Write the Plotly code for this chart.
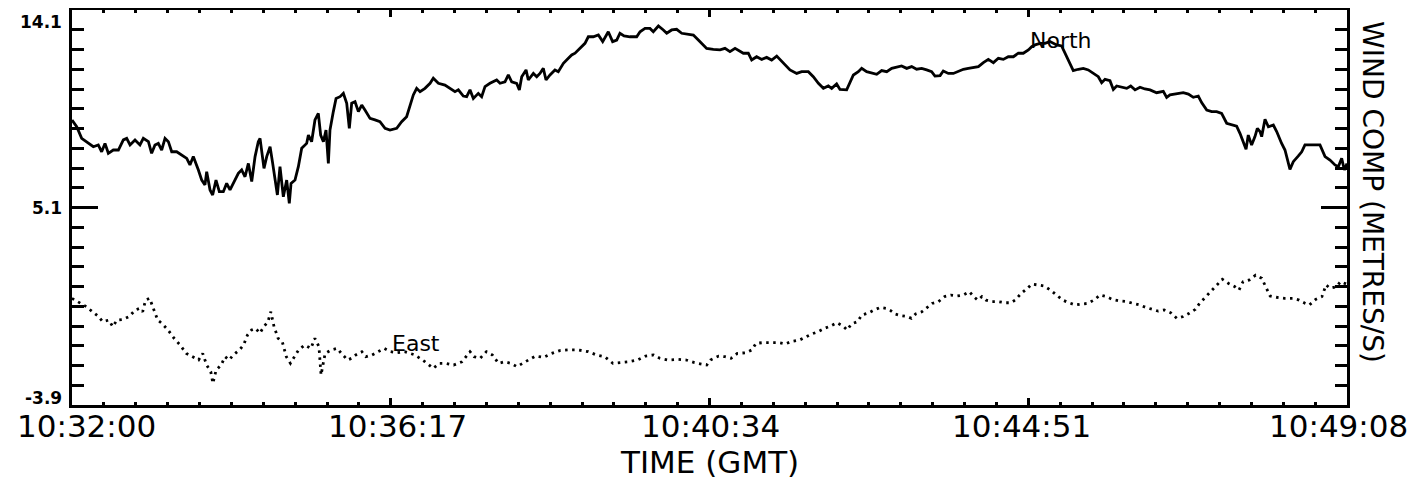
import plotly.graph_objects as go

# ---- axis ticks / labels ----
tick_seconds = [0, 257, 514, 771, 1028]
tick_labels = ["10:32:00", "10:36:17", "10:40:34", "10:44:51", "10:49:08"]
y_ticks = [-3.9, 5.1, 14.1]
y_tick_labels = ["-3.9", "5.1", "14.1"]

# ---- North component (seconds after 10:32:00, m/s) ----
north_t = [0, 3.8, 7.8, 11.8, 17.2, 21.2, 23.9, 26.6, 29.3, 33.3, 37.4, 41.4, 44.1, 46.8, 50.8, 54.8, 57.5, 61.6,
           64.2, 66.9, 69.6, 72.3, 75.0, 77.7, 80.4, 84.4, 88.4, 92.5, 95.1, 97.8, 101.9, 104.6, 107.2, 108.6, 111.3,
           113.4, 116.1, 118.8, 122.0, 124.7, 127.4, 130.1, 134.1, 136.8, 139.5, 142.2, 144.9, 147.6, 150.2, 151.6,
           152.9, 154.8, 157.0, 159.7, 161.8, 163.7, 165.6, 167.7, 170.4, 173.1, 175.2, 176.6, 179.8, 182.5, 185.2,
           189.2, 190.6, 193.2, 195.9, 198.6, 200.5, 202.7, 204.8, 206.7, 208.0, 210.7, 212.9, 216.1, 218.8, 221.5,
           223.6, 225.5, 228.2, 230.9, 233.6, 236.2, 240.3, 244.3, 248.3, 252.4, 256.4, 261.8, 265.8, 269.8, 272.5,
           275.2, 277.9, 280.6, 284.6, 288.7, 291.3, 295.4, 300.7, 304.8, 308.8, 311.5, 315.5, 318.2, 320.9, 323.6,
           327.6, 330.3, 333.0, 337.0, 342.4, 345.1, 349.1, 351.8, 354.5, 358.5, 360.7, 362.6, 366.1, 367.9, 372.0,
           374.7, 377.3, 380.0, 382.2, 385.4, 389.4, 392.1, 396.2, 400.2, 402.9, 405.6, 409.6, 413.6, 416.3, 420.3,
           424.4, 427.9, 432.4, 435.9, 439.2, 441.8, 445.1, 449.9, 455.3, 458.0, 462.0, 466.0, 468.7, 472.8, 476.8,
           479.5, 483.5, 487.5, 491.6, 495.6, 501.0, 505.0, 509.0, 511.7, 517.1, 522.5, 526.5, 530.5, 534.6, 538.6,
           541.3, 545.3, 548.0, 552.0, 556.1, 560.1, 564.1, 568.2, 573.5, 578.9, 584.3, 588.3, 593.7, 597.7, 601.8,
           605.8, 609.8, 612.5, 616.5, 619.2, 624.6, 627.3, 630.0, 634.0, 636.7, 640.7, 644.8, 648.8, 652.8, 656.9,
           660.9, 664.9, 668.9, 673.0, 677.0, 681.0, 685.1, 689.1, 693.1, 695.8, 699.9, 702.5, 706.6, 710.6, 714.6,
           718.7, 722.7, 726.7, 730.8, 734.8, 738.8, 742.9, 746.9, 750.9, 754.9, 759.0, 763.0, 767.0, 771.1, 773.8,
           776.5, 780.5, 784.5, 788.5, 793.9, 797.9, 800.6, 803.3, 807.3, 811.4, 815.4, 819.4, 823.5, 827.5, 830.2,
           832.9, 836.9, 839.6, 842.3, 846.3, 850.4, 853.6, 857.1, 861.1, 865.1, 869.2, 874.5, 879.9, 882.6, 885.3,
           890.7, 896.0, 900.1, 904.1, 908.1, 910.8, 914.9, 918.9, 922.9, 926.9, 931.0, 935.0, 939.0, 941.7, 944.4,
           946.6, 948.4, 951.1, 953.8, 955.7, 957.9, 959.2, 961.9, 964.6, 968.6, 971.3, 975.3, 978.0, 982.0, 984.7,
           988.8, 991.5, 994.1, 998.2, 1002.2, 1006.2, 1010.3, 1014.3, 1018.3, 1021.0, 1023.7, 1025.9, 1028]
north_v = [9.09, 8.78, 8.25, 8.10, 7.87, 7.95, 7.64, 8.02, 7.57, 7.72, 7.72, 8.18, 8.25, 7.95, 8.18, 7.95, 8.25, 8.10,
           7.57, 7.95, 8.02, 7.72, 8.25, 8.10, 7.64, 7.64, 7.49, 7.34, 7.04, 7.42, 6.81, 6.35, 6.13, 6.73, 5.90,
           5.67, 6.35, 5.82, 5.82, 6.20, 5.90, 6.20, 6.66, 6.81, 6.50, 7.11, 6.28, 7.42, 8.10, 8.25,
           7.72, 6.88, 7.42, 7.87, 7.11, 6.35, 5.67, 6.96, 5.59, 6.35, 5.29, 6.20, 6.35, 6.96, 7.80,
           8.02, 8.40, 8.10, 9.09, 9.39, 8.40, 8.10, 8.63, 7.11, 8.63, 9.47, 10.07, 10.15, 10.30, 9.85,
           8.71, 9.85, 9.92, 9.47, 9.77, 9.54, 9.16, 9.09, 9.01, 8.71, 8.63, 8.71, 9.01, 9.24, 9.77,
           10.23, 10.53, 10.38, 10.53, 10.76, 10.99, 10.76, 10.68, 10.53, 10.38, 10.46, 10.18, 10.15, 10.46, 10.07,
           10.30, 10.15, 10.61, 10.76, 10.91, 10.76, 10.83, 11.14, 10.83, 10.76, 10.46, 11.06, 11.37, 10.91, 11.21,
           11.06, 11.21, 11.44, 10.91, 11.14, 11.37, 11.29, 11.67, 11.90, 12.05, 12.13, 12.35, 12.58, 12.88, 12.88,
           12.96, 12.66, 13.11, 12.66, 12.73, 13.04, 12.92, 12.88, 12.88, 13.11, 13.26, 13.26, 13.11, 13.37, 13.19,
           13.04, 13.19, 13.22, 13.04, 13.01, 12.96, 12.73, 12.51, 12.35, 12.31, 12.28, 12.35, 12.20, 12.35, 12.20,
           12.13, 12.13, 11.82, 11.97, 11.85, 11.94, 11.82, 12.00, 11.67, 11.37, 11.21, 11.29, 11.29, 11.06, 10.76,
           10.53, 10.64, 10.53, 10.73, 10.48, 10.46, 10.83, 11.14, 11.29, 11.44, 11.29, 11.24, 11.17, 11.34, 11.29,
           11.44, 11.49, 11.55, 11.44, 11.52, 11.40, 11.44, 11.37, 11.29, 11.09, 11.11, 11.32, 11.21, 11.21, 11.29,
           11.40, 11.44, 11.49, 11.52, 11.70, 11.85, 11.70, 11.90, 11.85, 11.97, 11.97, 12.13, 12.13, 12.28, 12.43,
           12.51, 12.58, 12.58, 12.66, 12.51, 12.46, 12.13, 11.82, 11.34, 11.40, 11.44, 11.37, 11.21, 11.06, 10.79,
           10.94, 10.88, 10.48, 10.64, 10.58, 10.53, 10.64, 10.46, 10.58, 10.50, 10.46, 10.33, 10.39, 10.12, 10.23,
           10.27, 10.33, 10.27, 10.12, 10.18, 9.88, 9.54, 9.47, 9.47, 9.39, 8.94, 8.86, 8.81, 8.48, 8.10,
           7.75, 8.40, 7.95, 8.33, 8.71, 8.56, 8.33, 9.12, 8.78, 8.86, 8.56, 8.02, 7.72, 6.84, 7.19,
           7.45, 7.64, 7.95, 7.95, 7.95, 7.95, 7.42, 7.26, 7.04, 6.96, 7.34, 6.81, 7.10]

# ---- East component ----
east_t = [0, 6.6, 11.6, 16.5, 21.4, 24.7, 29.7, 32.9, 36.2, 41.2, 46.1, 51.0, 54.3, 57.0, 59.3, 62.6, 65.9, 69.1,
          72.4, 77.4, 82.3, 87.2, 92.2, 97.1, 102.1, 105.4, 108.6, 111.9, 113.6, 116.2, 120.2, 123.4, 126.7, 130.0,
          135.0, 138.3, 141.5, 144.8, 148.1, 151.4, 154.7, 158.0, 160.3, 162.9, 166.2, 169.5, 172.8, 176.1, 179.4,
          182.7, 187.6, 192.6, 195.8, 199.1, 200.8, 204.1, 209.0, 213.9, 217.2, 222.2, 225.5, 228.8, 233.7, 237.0,
          241.9, 246.9, 251.8, 256.7, 261.7, 268.2, 276.5, 284.7, 291.3, 296.2, 301.2, 307.7, 314.3, 320.9, 324.2,
          329.1, 334.1, 339.0, 343.9, 348.9, 353.8, 358.7, 363.7, 368.6, 373.6, 380.1, 386.7, 393.3, 399.9, 408.1,
          416.3, 422.9, 429.5, 436.1, 442.7, 449.2, 455.8, 462.4, 469.0, 473.9, 480.5, 488.7, 495.3, 501.9, 511.8,
          514.7, 521.4, 526.4, 531.4, 536.4, 543.1, 548.1, 551.5, 556.5, 563.2, 569.9, 574.9, 579.9, 586.6, 591.6,
          596.6, 601.6, 606.6, 611.6, 616.7, 621.7, 625.0, 628.4, 633.4, 636.7, 641.7, 646.7, 651.8, 656.8, 660.1,
          663.5, 668.5, 673.5, 676.8, 680.2, 685.2, 688.5, 693.5, 698.6, 703.6, 708.6, 713.6, 718.6, 723.6, 727.0,
          730.3, 733.6, 737.0, 742.0, 747.0, 752.0, 757.0, 760.4, 765.4, 770.4, 773.8, 778.8, 783.8, 788.8, 793.8,
          798.8, 803.8, 808.9, 813.9, 818.9, 823.9, 828.9, 833.9, 838.9, 844.0, 850.6, 855.7, 860.7, 865.7, 870.7,
          875.7, 880.7, 885.7, 890.8, 895.8, 900.8, 905.8, 909.1, 914.2, 919.2, 924.2, 927.5, 932.5, 937.6, 940.9,
          944.2, 949.3, 954.3, 959.3, 962.6, 966.0, 971.0, 977.7, 984.4, 989.4, 994.4, 997.7, 1002.7, 1007.8, 1011.1,
          1014.4, 1019.5, 1022.8, 1028]
east_v = [0.96, 0.73, 0.58, 0.35, 0.13, -0.10, -0.03, -0.33, -0.03, 0.00, 0.13, 0.43, 0.50, 0.35, 0.88, 0.96, 0.50,
          -0.03, -0.18, -0.48, -0.86, -1.17, -1.55, -1.70, -1.85, -1.55, -2.08, -2.38, -2.91, -2.31, -2.08, -1.70,
          -1.85, -1.62, -1.39, -1.17, -0.71, -0.48, -0.41, -0.63, -0.33, -0.10, 0.35, -0.33, -0.86, -1.01, -1.70,
          -2.00, -1.70, -1.39, -1.17, -1.32, -0.86, -1.24, -2.53, -1.55, -1.39, -1.32, -1.55, -1.85, -1.77, -1.62,
          -1.47, -1.70, -1.62, -1.47, -1.32, -1.47, -1.52, -1.47, -1.62, -1.93, -2.23, -2.00, -2.00, -2.08, -1.93,
          -1.47, -1.70, -1.77, -1.47, -1.62, -2.00, -1.93, -2.00, -2.15, -2.00, -1.85, -1.67, -1.73, -1.55, -1.42,
          -1.39, -1.39, -1.47, -1.62, -1.70, -2.00, -1.97, -1.93, -1.85, -1.67, -1.62, -1.77, -1.85, -1.82, -1.85,
          -1.97, -2.08,
          -1.85, -1.67, -1.70, -1.77, -1.55, -1.52, -1.39, -1.09, -1.06, -1.06, -1.06, -1.12, -1.01, -0.94, -0.79,
          -0.66, -0.56, -0.41, -0.30, -0.15, -0.30, -0.48, -0.21, -0.10, 0.20, 0.28, 0.43, 0.55, 0.50, 0.40,
          0.25, 0.17, 0.13, 0.05, 0.25, 0.35, 0.50, 0.73, 0.81, 1.04, 1.11, 1.07, 1.11, 1.26, 1.04,
          0.88, 1.04, 0.88, 0.81, 0.81, 0.76, 0.76, 0.88, 1.19, 1.42, 1.61, 1.57, 1.52, 1.34, 1.11,
          0.88, 0.76, 0.66, 0.70, 0.73, 0.88, 1.11, 1.04, 0.91, 0.85, 0.81, 0.73, 0.66, 0.55, 0.46,
          0.38, 0.43, 0.31, 0.05, 0.13, 0.28, 0.46, 0.73, 1.04, 1.34, 1.64, 1.83, 1.64, 1.49, 1.34,
          1.72, 1.80, 2.02, 1.87, 1.49, 1.07, 1.01, 0.96, 0.96, 0.88, 0.73, 0.66, 0.91, 1.04, 1.57,
          1.42, 1.49, 1.72, 1.60]

n1 = min(len(north_t), len(north_v))
n2 = min(len(east_t), len(east_v))

FONT = "DejaVu Sans"

fig = go.Figure()
fig.add_trace(go.Scatter(x=north_t[:n1], y=north_v[:n1], mode="lines",
                         line=dict(color="black", width=2.8), showlegend=False, hoverinfo="skip"))
fig.add_trace(go.Scatter(x=east_t[:n2], y=east_v[:n2], mode="lines",
                         line=dict(color="black", width=2.8, dash="2.5px,4.5px"), showlegend=False, hoverinfo="skip"))

annotations = []
# y tick labels (bold, small, left of the frame)
y_label_shift = [7, 0, -12]
for v, lab, ys in zip(y_ticks, y_tick_labels, y_label_shift):
    annotations.append(dict(x=0, xref="paper", y=v, yref="y", text=lab, showarrow=False,
                            xanchor="right", yanchor="middle", xshift=-8, yshift=ys,
                            font=dict(family=FONT, size=17, color="black", weight="bold")))
# x tick labels (large, below the frame)
x_label_shift = [14, 7, 1, -7, -9]
for t, lab, xs in zip(tick_seconds, tick_labels, x_label_shift):
    annotations.append(dict(x=t, xref="x", y=-0.0506, yref="paper", text=lab, showarrow=False,
                            xanchor="center", yanchor="middle", xshift=xs, yshift=-1,
                            font=dict(family=FONT, size=31, color="black")))
annotations.append(dict(x=0.5, xref="paper", y=-0.144, yref="paper", text="TIME (GMT)", showarrow=False,
                        xanchor="center", yanchor="middle", font=dict(family=FONT, size=31, color="black")))
annotations.append(dict(x=1.0204, xref="paper", y=0.539, yref="paper", text="WIND COMP (METRES/S)",
                        showarrow=False, textangle=90, xanchor="center", yanchor="middle",
                        font=dict(family=FONT, size=28, color="black")))
annotations.append(dict(x=797, y=12.69, xref="x", yref="y", text="North", showarrow=False,
                        xanchor="center", yanchor="middle", font=dict(family=FONT, size=22, color="black")))
annotations.append(dict(x=277, y=-1.10, xref="x", yref="y", text="East", showarrow=False,
                        xanchor="center", yanchor="middle", font=dict(family=FONT, size=22, color="black")))

# the page body adds an 8px margin; figure is sized so the plot frame lands at 72..1347 x 10..405
fig.update_layout(
    width=1419, height=473,
    margin=dict(l=64, r=80, t=2, b=76, autoexpand=False),
    paper_bgcolor="white", plot_bgcolor="white",
    showlegend=False,
    annotations=annotations,
    xaxis=dict(range=[0, 1028], tickmode="array", tickvals=tick_seconds,
               automargin=False, showticklabels=False,
               ticks="inside", ticklen=7, tickwidth=2.5, tickcolor="black",
               showline=True, linecolor="black", linewidth=3, mirror="allticks",
               showgrid=False, zeroline=False,
               minor=dict(ticks="inside", dtick=25.7, tick0=0, ticklen=3, tickwidth=2.5,
                          tickcolor="black", showgrid=False)),
    yaxis=dict(range=[-3.9, 14.1], tickmode="array", tickvals=y_ticks,
               automargin=False,
               ticks="inside", ticklen=26, tickwidth=3, tickcolor="black",
               showticklabels=False,
               showline=True, linecolor="black", linewidth=3, mirror="allticks",
               showgrid=False, zeroline=False,
               minor=dict(ticks="inside", dtick=0.9, tick0=-3.9, ticklen=12, tickwidth=3,
                          tickcolor="black", showgrid=False)),
)

fig.write_html("out.html")
